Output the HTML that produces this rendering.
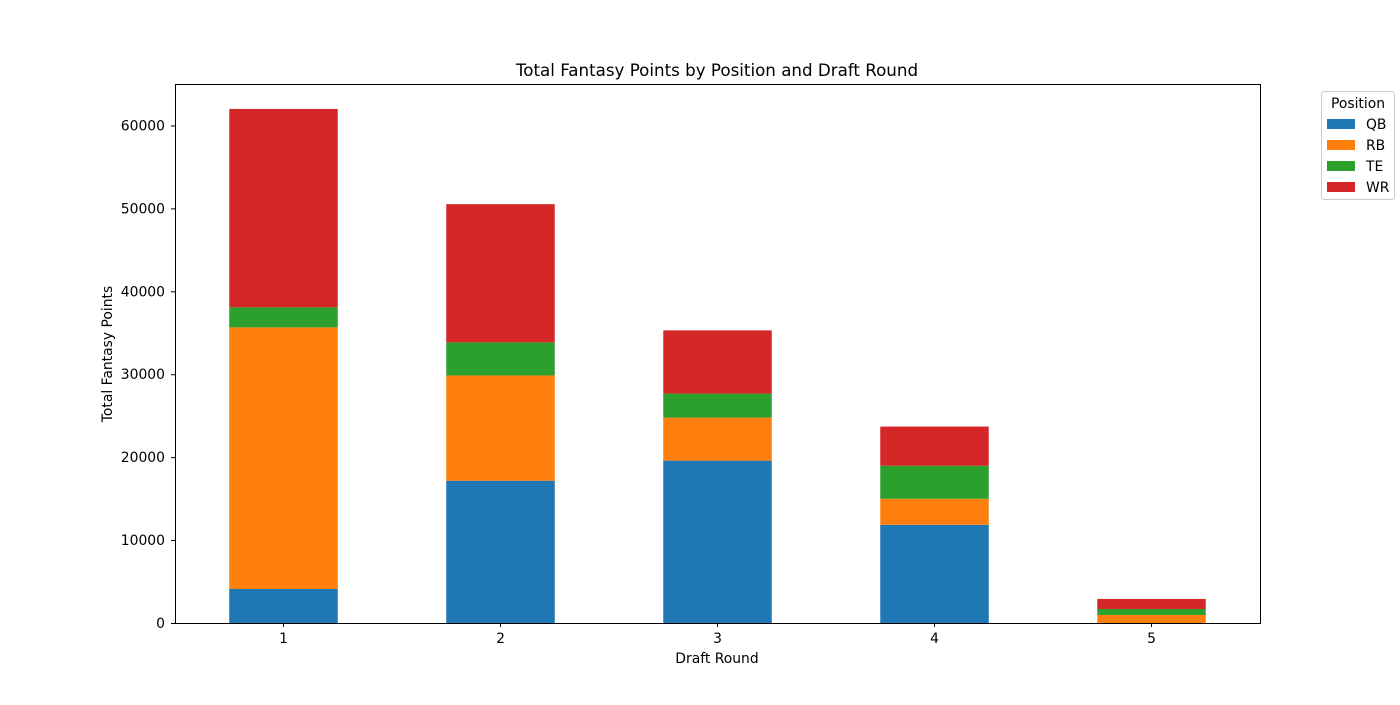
<!DOCTYPE html>
<html><head><meta charset="utf-8"><style>
body{margin:0;background:#fff;}
svg text{font-family:"DejaVu Sans","Liberation Sans",sans-serif;fill:#000;}
</style></head><body>
<svg id="chart" width="1400" height="700" xmlns="http://www.w3.org/2000/svg">
<rect width="1400" height="700" fill="#fff"/>
<text x="717" y="76" text-anchor="middle" font-size="16.7">Total Fantasy Points by Position and Draft Round</text>
<g id="bars"></g>
<g id="axes"></g>
<text x="717" y="663" text-anchor="middle" font-size="13.9">Draft Round</text>
<text transform="translate(112,354) rotate(-90)" text-anchor="middle" font-size="13.9">Total Fantasy Points</text>
<g id="legend">
<rect x="1321.5" y="91.5" width="73" height="108" rx="3" fill="#fff" stroke="#ccc"/>
<text x="1358" y="108" text-anchor="middle" font-size="13.9">Position</text>
</g>
</svg>
<script>
const categories = ["1","2","3","4","5"];
const positions = ["QB","RB","TE","WR"];
const qb = [4100, 17160, 19580, 11840, 0];
const rb = [31550, 12690, 5190, 3140, 970];
const te = [2420, 3990, 2900, 3990, 720];
const wr = [23920, 16670, 7620, 4720, 1210];
const yTicks = [0, 10000, 20000, 30000, 40000, 50000, 60000];
const colors = ["#1f77b4","#ff7f0e","#2ca02c","#d62728"];
const series = [qb, rb, te, wr];
const NS = "http://www.w3.org/2000/svg";
const L = 175, R = 1260, T = 84, B = 623, yMax = 65000;
const step = (R - L) / categories.length;
const xc = i => L + step * (i + 0.5);
const y = v => B - (B - T) * v / yMax;
function mk(tag, attrs, parent) {
  const e = document.createElementNS(NS, tag);
  for (const k in attrs) e.setAttribute(k, attrs[k]);
  parent.appendChild(e); return e;
}
const bars = document.getElementById("bars");
categories.forEach((c, i) => {
  let base = 0;
  series.forEach((s, j) => {
    const v = s[i];
    const r = mk("rect", {x: xc(i) - step * 0.25, width: step * 0.5, y: y(base + v), height: y(base) - y(base + v), fill: colors[j]}, bars);
    
    
    base += v;
  });
});
const ax = document.getElementById("axes");
const frame = mk("rect", {x: L + .5, y: T + .5, width: R - L, height: B - T, fill: "none", stroke: "#000", "stroke-width": 1}, ax);


yTicks.forEach(t => {
  mk("line", {x1: L - 4, x2: L, y1: y(t) + .5, y2: y(t) + .5, stroke: "#000"}, ax);
  const tx = mk("text", {x: L - 10, y: y(t) + 5, "text-anchor": "end", "font-size": 13.9}, ax);
  tx.textContent = t;
  
  
});
categories.forEach((c, i) => {
  mk("line", {x1: xc(i), x2: xc(i), y1: B, y2: B + 4, stroke: "#000"}, ax);
  const tx = mk("text", {x: xc(i), y: B + 20, "text-anchor": "middle", "font-size": 13.9}, ax);
  tx.textContent = c;
  
  
});
const lg = document.getElementById("legend");
positions.forEach((p, j) => {
  const yy = 119 + j * 21;
  const sw = mk("rect", {x: 1327, y: yy, width: 28, height: 10, fill: colors[j]}, lg);
  
  
  const tx = mk("text", {x: 1366, y: yy + 10, "font-size": 13.9}, lg);
  tx.textContent = p;
  
  
});
</script>
</body></html>
